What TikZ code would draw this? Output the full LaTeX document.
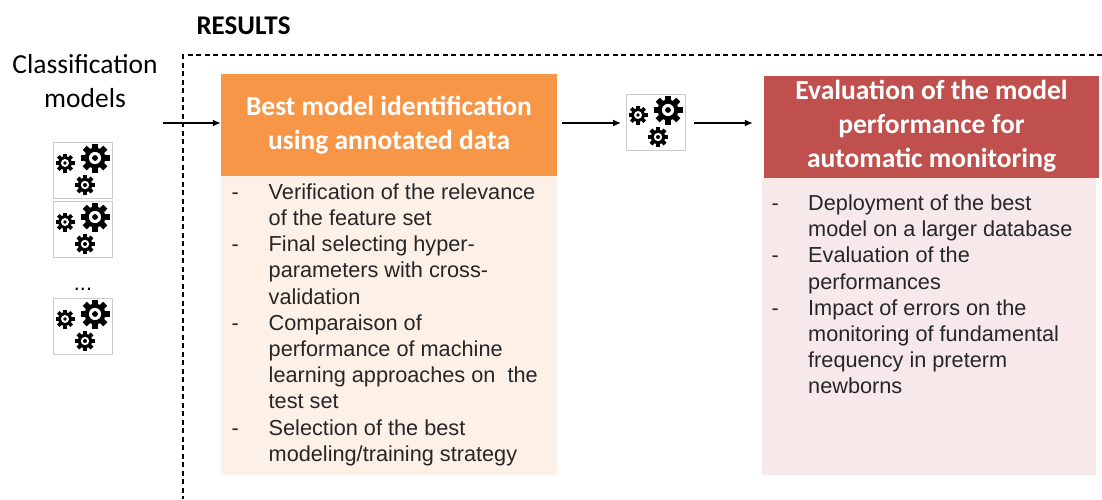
\documentclass[tikz,border=0pt]{standalone}
\usepackage{fontspec}
\setmainfont{Carlito}
\newfontfamily\arialfont{Liberation Sans}
\usetikzlibrary{arrows.meta}
\definecolor{bestorange}{HTML}{F79646}
\definecolor{bestlight}{HTML}{FCF0E7}
\definecolor{evalred}{HTML}{C0504D}
\definecolor{evallight}{HTML}{F7E9E9}
\tikzstyle{header}=[text=white, font=\fontsize{27.5}{34}\selectfont\bfseries, align=center, minimum height=102pt, inner sep=0pt]
\tikzstyle{bodybox}=[anchor=north west, inner sep=0pt]
\tikzstyle{bodytext}=[anchor=north west, inner sep=0pt, text=black!85, font=\arialfont\fontsize{21.7}{26.2}\selectfont]
\tikzstyle{cogbox}=[draw=black!20, anchor=north west, minimum width=59pt, minimum height=56pt, inner sep=0pt]
\tikzstyle{arr}=[line width=1.5pt, -{Latex[length=8pt,width=7pt]}]
\tikzset{cog/.pic={
  \fill (0,0) circle[radius=0.72];
  \foreach \a in {0,45,...,315} \fill[rotate=\a] (-0.2,0.55) rectangle (0.2,1);
  \fill[white] (0,0) circle[radius=0.42];
  \fill (0,0) circle[radius=0.2];
}}

\begin{document}
\begin{tikzpicture}[x=1pt,y=-1pt]
	\useasboundingbox (0,0) rectangle (1102,499);
	\begin{scope}
		\node (results) at (243.5,26) {\fontsize{27}{30}\selectfont\bfseries RESULTS};
		\node (classif) at (85,81) [align=center, font=\fontsize{27.5}{34}\selectfont] {Classification\\models};
		\node (dots) at (83,289) {\arialfont\fontsize{21.7}{26}\selectfont ...};
		\draw[dashed, dash pattern=on 5pt off 3.5pt, line width=1.2pt] (1102,55) -- (183,55) -- (183,499);
	\end{scope}
	\begin{scope}
		\node (best) at (389,125) [header, fill=bestorange, minimum width=336pt] {Best model identification\\using annotated data};
		\node (bestbody) at (221,176) [bodybox, fill=bestlight, minimum width=336pt, minimum height=299pt] {};
		\node (besttext) at (231.5,180.7) [bodytext] {\begin{tabular}{@{}p{37pt}@{}l@{}}
			- & Verification of the relevance\\
			  & of the feature set\\
			- & Final selecting hyper-\\
			  & parameters with cross-\\
			  & validation\\
			- & Comparaison of\\
			  & performance of machine\\
			  & learning approaches on\ \ the\\
			  & test set\\
			- & Selection of the best\\
			  & modeling/training strategy
		\end{tabular}};
	\end{scope}
	\begin{scope}
		\node (eval) at (931.5,126.5) [header, fill=evalred, minimum width=335pt] {Evaluation of the model\\performance for\\automatic monitoring};
		\node (evalbody) at (762,177.5) [bodybox, fill=evallight, minimum width=334pt, minimum height=297.5pt] {};
		\node (evaltext) at (771.5,192) [bodytext] {\begin{tabular}{@{}p{36.5pt}@{}l@{}}
			- & Deployment of the best\\
			  & model on a larger database\\
			- & Evaluation of the\\
			  & performances\\
			- & Impact of errors on the\\
			  & monitoring of fundamental\\
			  & frequency in preterm\\
			  & newborns
		\end{tabular}};
	\end{scope}
	\begin{scope}
		\foreach \n/\y in {g1/142, g2/201, g3/298}
			\node (\n) at (53,\y) [cogbox] {};
		\node (mid) at (626,94) [cogbox] {};
		\foreach \n in {g1,g2,g3,mid} {
			\pic[scale=9.5] at ([shift={(12,21)}]\n.north west) {cog};
			\pic[scale=14.5] at ([shift={(42,16)}]\n.north west) {cog};
			\pic[scale=10] at ([shift={(32,43)}]\n.north west) {cog};
		}
	\end{scope}
	\begin{scope}
		\coordinate (in) at (163,123);
		\draw[arr] (in) -- (in -| best.west);
		\draw[arr, shorten <=5pt, shorten >=5pt] (in -| best.east) -- (in -| mid.west);
		\draw[arr, shorten <=9pt, shorten >=11pt] (in -| mid.east) -- (in -| eval.west);
	\end{scope}
\end{tikzpicture}
\end{document}
